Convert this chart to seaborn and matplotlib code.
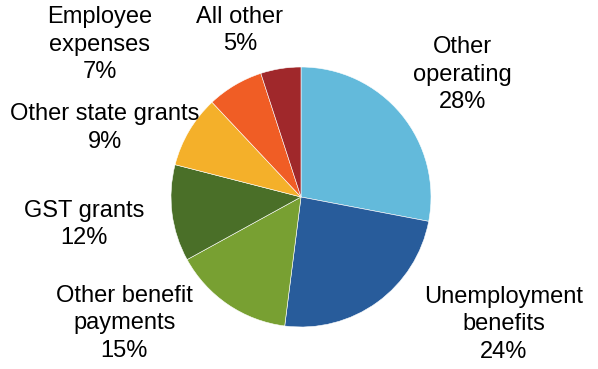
import matplotlib
matplotlib.use("Agg")
import matplotlib.pyplot as plt
import seaborn as sns

categories = ["Other\noperating", "Unemployment\nbenefits", "Other benefit\npayments",
              "GST grants", "Other state grants", "Employee\nexpenses", "All other"]
shares = [28, 24, 15, 12, 9, 7, 5]
colors = ["#63BADB", "#285C9B", "#78A032", "#4A6F28", "#F4B02A", "#F05D25", "#A0282B"]

# label centres in pie-radius units (pie radius = 1)
label_xy = [(1.24, 0.94), (1.56, -0.98), (-1.36, -0.97), (-1.67, -0.21),
            (-1.51, 0.53), (-1.55, 1.17), (-0.47, 1.28)]

sns.set_theme(style="white")
plt.rcParams["font.family"] = ["Liberation Sans", "DejaVu Sans"]

W, H = 598, 369
fig = plt.figure(figsize=(W / 100, H / 100), dpi=100)
R = 130
cx, cy = 301, 197
ax = fig.add_axes([(cx - R) / W, (H - cy - R) / H, 2 * R / W, 2 * R / H])

ax.pie(shares, colors=colors, startangle=90, counterclock=False, radius=1,
       wedgeprops=dict(edgecolor="white", linewidth=0.4))
ax.set_xlim(-1, 1)
ax.set_ylim(-1, 1)
ax.set_aspect("equal")
ax.axis("off")

for name, val, (x, y) in zip(categories, shares, label_xy):
    ax.text(x, y, f"{name}\n{val}%", ha="center", va="center", fontsize=17,
            linespacing=1.32, color="black", clip_on=False)

fig.savefig("out.png", dpi=100)
